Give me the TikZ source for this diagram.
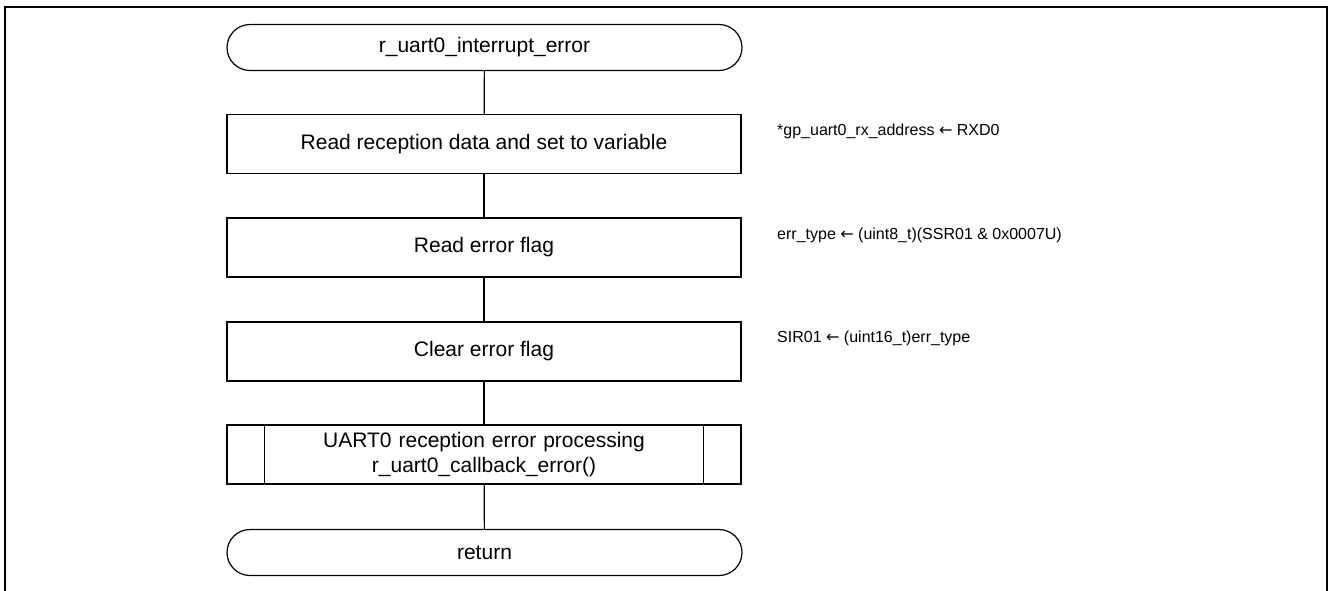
\documentclass[tikz,border=0pt]{standalone}
\usepackage{fontspec}
\setmainfont{Liberation Sans}
\newfontfamily\arrowfont{DejaVu Sans}
\newcommand{\larr}{{\arrowfont ←}}
\usetikzlibrary{calc}
\begin{document}
\begin{tikzpicture}[x=1pt,y=-1pt,
  every node/.style={font=\fontsize{21}{25}\selectfont},
  term/.style={draw,line width=1.2pt,rounded corners=23pt,minimum width=515pt,minimum height=46pt,inner sep=0pt},
  proc/.style={draw,line width=1.2pt,minimum width=514pt,minimum height=59pt,inner sep=0pt,align=center},
  note/.style={anchor=west,inner sep=0pt,font=\fontsize{16}{19}\selectfont},
  link/.style={line width=1.2pt}]
\useasboundingbox (0,0) rectangle (1328,590);
\draw[line width=2.2pt] (5,596) -- (5,7) -- (1327,7) -- (1327,596);
\node[term] (start) at (484.5,47.5) {r\_uart0\_interrupt\_error};
\node[proc] (b1) at (484,144) {Read reception data and set to variable};
\node[proc] (b2) at (484,247.5) {Read error flag};
\node[proc] (b3) at (484,351.5) {Clear error flag};
\node[proc,text width=420pt] (sub) at (484,454.5) {UART0 reception error processing\\r\_uart0\_callback\_error()};
\draw[link] ($(sub.north west)+(38,0)$) -- ($(sub.south west)+(38,0)$);
\draw[link] ($(sub.north east)+(-38,0)$) -- ($(sub.south east)+(-38,0)$);
\node[term] (ret) at (484.5,552.5) {return};
\draw[link] (start) -- (b1);
\draw[link] (b1) -- (b2);
\draw[link] (b2) -- (b3);
\draw[link] (b3) -- (sub);
\draw[link] (sub) -- (ret);
\node[note] (n1) at (777,131) {*gp\_uart0\_rx\_address \larr{} RXD0};
\node[note] (n2) at (777,235.5) {err\_type \larr{} (uint8\_t)(SSR01 \& 0x0007U)};
\node[note] (n3) at (777,338.5) {SIR01 \larr{} (uint16\_t)err\_type};
\end{tikzpicture}
\end{document}
